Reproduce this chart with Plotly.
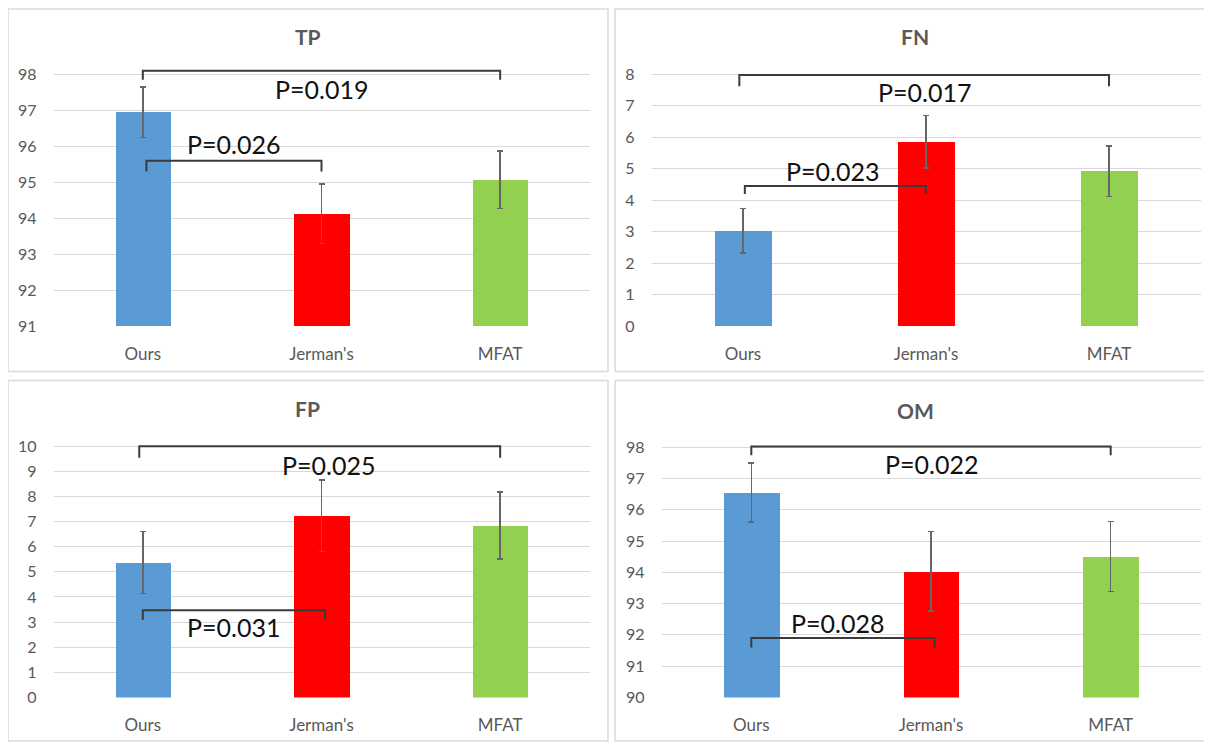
import plotly.graph_objects as go

# the page body has an 8px margin, so the figure is laid out in reference pixels minus that offset
OFF = 8
W, H = 1212 - 2 * OFF, 750 - 2 * OFF

categories = ["Ours", "Jerman's", "MFAT"]
colors = ["#5B9BD5", "#FF0000", "#92D050"]

tp_vals = [96.95, 94.12, 95.07]
tp_err = [0.70, 0.83, 0.80]
fn_vals = [3.03, 5.86, 4.92]
fn_err = [0.70, 0.83, 0.80]
fp_vals = [5.37, 7.23, 6.84]
fp_err = [1.23, 1.42, 1.33]
om_vals = [96.55, 94.03, 94.50]
om_err = [0.94, 1.27, 1.12]

# significance brackets: (x0, x1, y_bar, y_leg, label, text_x, text_y)
tp_brackets = [(0.0, 2.0, 98.1, 97.85, "P=0.019", 1.0, 97.6),
               (0.02, 1.0, 95.6, 95.3, "P=0.026", 0.51, 96.05)]
fn_brackets = [(-0.02, 2.0, 7.98, 7.62, "P=0.017", 0.99, 7.43),
               (0.01, 1.0, 4.45, 4.2, "P=0.023", 0.49, 4.94)]
fp_brackets = [(-0.02, 2.0, 10.0, 9.54, "P=0.025", 1.04, 9.25),
               (0.0, 1.02, 3.47, 3.09, "P=0.031", 0.51, 2.79)]
om_brackets = [(0.0, 2.0, 98.02, 97.74, "P=0.022", 1.0, 97.45),
               (0.0, 1.02, 91.9, 91.6, "P=0.028", 0.48, 92.38)]


def fx(p):
    return (p - OFF) / W


def fy(p):
    return 1 - (p - OFF) / H


panels = [
    ("TP", tp_vals, tp_err, tp_brackets, (53.5, 589.5), (60.6, 330), [91, 98.4], list(range(91, 99)), (307.5, 37), (8, 9, 608, 376)),
    ("FN", fn_vals, fn_err, fn_brackets, (651.5, 1200.5), (62.5, 330), [0, 8.4], list(range(0, 9)), (915, 37), (615, 9, 1219, 376)),
    ("FP", fp_vals, fp_err, fp_brackets, (53.5, 589.5), (439, 706), [0, 10.5], list(range(0, 11)), (307.5, 413), (8, 385, 608, 750)),
    ("OM", om_vals, om_err, om_brackets, (661.5, 1200.5), (440, 706), [90, 98.4], list(range(90, 99)), (915, 415), (615, 385, 1219, 750)),
]

fig = go.Figure()
shapes = []
annotations = []
font_main = "Lato, 'Open Sans', sans-serif"
gray_text = "#595959"

for i, (name, vals, err, brackets, xd, yd, yr, ticks, tpos, frame) in enumerate(panels):
    n = i + 1
    xa = "x" if n == 1 else f"x{n}"
    ya = "y" if n == 1 else f"y{n}"
    shapes.append(dict(type="rect", xref="paper", yref="paper",
                       x0=fx(frame[0]), x1=fx(frame[2]), y0=fy(frame[3]), y1=fy(frame[1]),
                       line=dict(color="#DADADA", width=1.5), fillcolor="white", layer="below"))
    fig.add_trace(go.Bar(
        x=[0, 1, 2], y=vals, marker=dict(color=colors, line=dict(width=0)),
        width=0.31,
        error_y=dict(type="data", array=err, visible=True, color="#666666", thickness=1.5, width=3),
        xaxis=xa, yaxis=ya, showlegend=False,
    ))
    axkey = "xaxis" if n == 1 else f"xaxis{n}"
    aykey = "yaxis" if n == 1 else f"yaxis{n}"
    fig.update_layout(**{
        axkey: dict(domain=[fx(xd[0]), fx(xd[1])], range=[-0.5, 2.5], anchor=ya,
                    tickvals=[0, 1, 2], ticktext=categories, showgrid=False, zeroline=False,
                    showline=False, ticks="", ticklabelstandoff=16,
                    tickfont=dict(family=font_main, size=17, color=gray_text)),
        aykey: dict(domain=[fy(yd[1]), fy(yd[0])], range=yr, anchor=xa,
                    tickvals=ticks, showgrid=True, gridcolor="#D9D9D9", gridwidth=1,
                    zeroline=False, showline=False, ticks="", ticklabelstandoff=16,
                    tickfont=dict(family=font_main, size=16, color=gray_text)),
    })
    annotations.append(dict(text=f"<b>{name}</b>", xref="paper", yref="paper",
                            x=fx(tpos[0]), y=fy(tpos[1]), xanchor="center", yanchor="middle",
                            showarrow=False, font=dict(family=font_main, size=21, color=gray_text)))
    for (x0, x1, yb, yl, lab, tx, ty) in brackets:
        shapes.append(dict(type="path", xref=xa, yref=ya,
                           path=f"M {x0} {yl} L {x0} {yb} L {x1} {yb} L {x1} {yl}",
                           line=dict(color="#3A3A3A", width=2), layer="above"))
        annotations.append(dict(text=lab, xref=xa, yref=ya, x=tx, y=ty,
                                xanchor="center", yanchor="middle", showarrow=False,
                                font=dict(family=font_main, size=25, color="#111111")))

fig.update_layout(
    width=W, height=H, margin=dict(l=0, r=0, t=0, b=0),
    paper_bgcolor="white", plot_bgcolor="rgba(0,0,0,0)",
    shapes=shapes, annotations=annotations, bargap=0,
)

fig.write_html("out.html")
